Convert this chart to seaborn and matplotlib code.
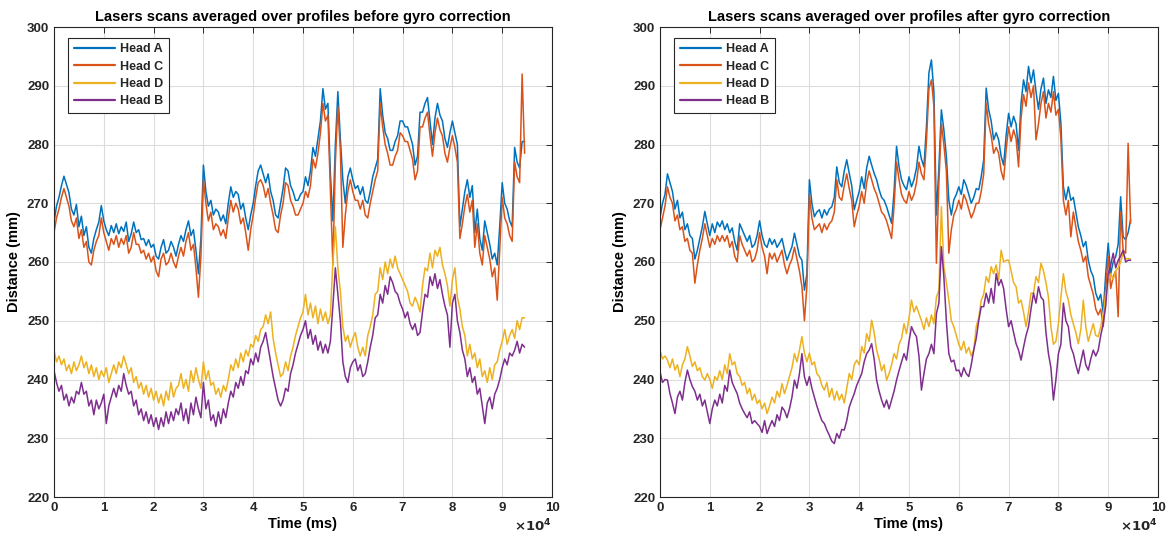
import numpy as np
import pandas as pd
import matplotlib
matplotlib.use("Agg")
import matplotlib.pyplot as plt
import seaborn as sns

# Sample times (ms), one averaged profile every 500 ms
time_ms = np.arange(190) * 500

# ---- Before gyro correction ----
before_head_a = [
    266.8, 269.5, 271.0, 273.0, 274.6, 273.2, 271.8, 269.0, 268.0, 269.8,
    266.0, 267.8, 264.5, 266.0, 262.5, 261.5, 264.0, 265.5, 266.8, 269.6,
    267.0, 265.5, 264.5, 266.2, 265.0, 266.5, 264.8, 266.0, 265.2, 266.8,
    263.5, 264.8, 266.8, 265.0, 265.5, 263.8, 264.0, 262.8, 263.8, 262.5,
    263.0, 261.0, 260.5, 262.5, 263.8, 261.5, 262.0, 263.5, 262.5, 261.0,
    263.0, 264.5, 263.5, 265.5, 267.0, 264.5, 265.5, 262.0, 258.0, 264.0,
    276.5, 272.0, 269.5, 270.5, 268.0, 269.0, 268.5, 267.0, 268.0, 266.5,
    270.0, 272.8, 271.0, 272.0, 271.5, 269.0, 270.0, 267.5, 265.5, 268.0,
    270.0, 273.0, 275.5, 276.5, 275.0, 273.5, 275.0, 272.0, 270.5, 268.0,
    267.5, 270.0, 272.5, 276.0, 275.5, 273.0, 272.0, 270.5, 270.5, 271.5,
    272.0, 274.5, 273.0, 275.5, 279.5, 278.0, 281.0, 284.0, 289.5, 286.0,
    287.0, 275.0, 267.0, 280.0, 289.0, 281.0, 274.0, 270.0, 274.5, 276.0,
    274.0, 272.5, 273.0, 271.5, 272.8, 270.5, 270.0, 272.0, 274.5, 276.0,
    277.5, 289.5, 285.0, 282.0, 281.0, 279.0, 279.0, 280.5, 281.5, 284.0,
    284.0, 283.0, 283.0, 281.5, 280.0, 276.5, 278.0, 285.5, 285.5, 287.0,
    288.0, 284.0, 280.0, 284.5, 287.0, 285.0, 284.0, 281.0, 279.5, 282.0,
    284.0, 282.0, 280.0, 266.0, 269.0, 272.0, 274.0, 271.0, 273.0, 265.0,
    269.0, 264.0, 262.0, 267.0, 265.0, 263.0, 260.5, 261.5, 259.5, 266.0,
    273.5, 270.0, 269.0, 267.0, 266.0, 279.5, 277.0, 276.0, 280.5, 280.5,
]
before_head_c = [
    265.0, 267.5, 269.0, 271.0, 272.5, 271.0, 269.5, 267.0, 266.0, 267.5,
    264.0, 265.5, 262.5, 263.5, 260.0, 259.5, 262.0, 263.5, 264.5, 267.5,
    265.0, 263.5, 262.0, 264.0, 263.0, 264.5, 262.5, 264.0, 263.0, 264.5,
    261.5, 262.5, 265.0, 263.0, 263.0, 261.5, 262.0, 260.5, 261.5, 260.0,
    261.0, 258.5, 257.5, 260.5, 261.5, 259.5, 260.0, 261.5, 260.0, 259.0,
    261.0, 262.5, 261.0, 263.5, 265.0, 262.0, 263.0, 259.0, 254.0, 261.0,
    274.0, 270.0, 267.0, 268.5, 265.5, 266.5, 266.0, 264.5, 265.5, 264.0,
    267.5, 270.5, 268.5, 270.0, 269.0, 266.5, 267.5, 265.0, 262.0, 265.5,
    268.0, 271.0, 273.5, 274.0, 273.0, 271.0, 272.5, 270.0, 268.0, 265.5,
    265.0, 268.0, 270.0, 273.5, 273.0, 270.5, 269.5, 268.0, 268.0, 269.0,
    270.0, 272.0, 271.0, 273.0, 277.5, 276.0, 278.5, 282.0, 287.0, 284.0,
    285.0, 272.0, 259.5, 277.0, 286.5, 279.0, 262.5, 268.0, 272.0, 274.0,
    272.0, 270.5, 270.5, 269.0, 270.5, 268.0, 267.5, 270.0, 272.0, 274.0,
    275.5, 287.0, 283.0, 280.0, 278.5, 276.5, 276.5, 278.0, 279.0, 282.0,
    281.5, 280.5, 280.5, 279.0, 277.5, 274.0, 275.5, 283.0, 283.0, 284.5,
    285.5, 281.5, 278.0, 282.0, 284.5, 282.5, 281.5, 278.5, 277.0, 279.5,
    281.5, 279.5, 277.0, 264.0, 266.5, 269.5, 271.5, 268.5, 270.5, 262.5,
    266.5, 261.5, 259.5, 264.5, 262.5, 260.5, 257.5, 259.0, 253.5, 262.0,
    271.0, 267.5, 266.5, 264.5, 263.5, 277.0, 274.5, 273.5, 292.0, 278.5,
]
before_head_d = [
    245.0, 243.0, 244.0, 242.5, 243.5, 241.5, 242.5, 241.0, 243.0, 241.5,
    242.5, 244.0, 242.0, 243.0, 241.0, 242.5, 240.5, 242.0, 240.0, 241.5,
    240.5, 242.0, 239.5, 241.0, 242.5, 241.0, 243.0, 242.0, 244.0, 242.5,
    241.0, 242.0, 239.5, 240.5, 238.5, 239.5, 237.5, 239.0, 237.0, 238.5,
    236.5, 238.0, 236.0, 237.5, 235.5, 238.0, 236.5, 239.5, 237.0, 238.5,
    239.0, 241.0, 238.5, 240.0, 238.0, 241.5, 239.5, 242.0, 240.0, 238.5,
    243.0, 240.0, 241.5, 239.0, 239.5, 237.5, 238.5, 237.0, 239.0, 238.0,
    240.0, 242.5, 241.5, 243.5, 242.0, 244.5, 243.0, 245.0, 244.0, 246.0,
    245.5, 247.5, 246.5, 248.5, 249.0, 251.0, 249.5, 251.5, 247.0, 244.5,
    242.5, 240.5, 241.0, 243.0, 241.5, 244.0, 245.5, 247.5, 249.0, 250.5,
    251.5, 254.5, 251.0, 253.0, 250.5, 252.5, 249.5, 252.0, 250.0, 251.5,
    249.5, 251.0, 260.0, 266.0, 259.0, 255.0, 249.0, 246.5, 247.5, 245.5,
    247.0, 248.0, 245.5, 244.0, 245.5, 244.0, 247.5, 249.0, 251.0, 254.5,
    255.0, 259.0, 257.0, 260.0, 258.0, 260.5, 259.0, 261.0, 259.0, 258.0,
    257.0, 256.0, 255.0, 253.0, 252.5, 254.0, 253.0, 251.5, 256.0, 259.0,
    258.5, 261.5, 259.0, 262.0, 261.0, 262.5, 259.5, 258.0, 256.0, 252.5,
    257.0, 259.0, 254.0, 252.0, 249.0, 247.5, 244.0, 246.0, 243.5, 244.5,
    242.0, 243.5, 240.5, 241.5, 239.5, 242.0, 240.0, 242.5, 243.0, 245.0,
    246.5, 248.5, 246.0, 247.5, 248.5, 247.0, 250.0, 248.5, 250.5, 250.5,
]
before_head_b = [
    241.5, 239.5, 238.0, 239.0, 236.5, 237.5, 235.5, 237.0, 236.0, 238.0,
    237.5, 239.5, 237.5, 238.0, 235.5, 236.5, 234.0, 236.5, 235.0, 236.0,
    237.5, 232.5, 235.5, 237.0, 238.5, 237.0, 239.0, 238.0, 241.0, 239.0,
    237.5, 238.0, 235.5, 236.5, 234.0, 235.0, 233.0, 234.5, 232.5, 234.0,
    232.0, 233.5, 231.5, 233.5, 232.0, 234.5, 232.5, 234.5, 233.0, 235.0,
    234.0, 236.0, 233.0, 235.0, 232.5, 236.0, 234.0, 237.0, 235.0, 233.5,
    239.5, 235.0, 236.5, 233.0, 234.0, 232.0, 234.5, 232.5, 235.0, 233.5,
    236.0, 238.0, 237.0, 239.5, 238.5, 240.5, 239.0, 241.5, 241.0, 243.5,
    242.5, 244.5, 243.0, 245.5, 246.5, 248.0, 245.5, 243.0, 240.5, 238.5,
    236.5, 235.5, 236.5, 238.5, 238.0, 241.0, 242.5, 244.5, 246.0, 247.5,
    248.5, 250.0, 247.0, 248.5, 246.0, 247.5, 245.0, 246.5, 244.5, 246.0,
    244.5, 246.5, 252.5, 259.0, 254.5, 250.0, 243.0, 240.5, 239.5, 242.0,
    243.0, 243.5, 241.5, 242.5, 240.5, 241.0, 243.0, 245.5, 247.5, 250.5,
    251.0, 254.5, 253.0, 256.0, 254.5, 257.5, 256.5, 255.0, 254.5, 253.0,
    252.0, 250.5, 251.5, 249.5, 248.5, 249.5, 247.5, 248.0, 251.5, 254.5,
    254.0, 257.5, 256.0, 258.0, 255.5, 257.0, 254.5, 252.5, 251.0, 245.5,
    253.0, 254.5, 250.0, 248.0, 245.0, 243.5, 240.5, 242.0, 239.5, 240.5,
    237.5, 238.5, 235.5, 232.5, 236.0, 237.0, 235.0, 237.5, 238.5, 240.0,
    242.0, 243.5, 242.5, 244.5, 244.0, 245.0, 246.5, 244.5, 246.0, 245.5,
]

# ---- After gyro correction ----
after_head_a = [
    267.5, 270.0, 271.5, 275.0, 273.5, 272.0, 269.0, 270.5, 267.5, 268.5,
    265.5, 266.5, 264.5, 264.0, 260.5, 262.0, 264.0, 266.0, 268.6, 266.5,
    264.5, 266.5, 265.0, 266.8, 266.0, 267.0, 265.5, 266.5, 265.0, 265.8,
    263.5, 262.0, 266.5, 265.5, 264.5, 263.5, 264.5, 262.5, 263.0, 264.5,
    267.0, 264.5, 263.0, 262.5, 264.0, 263.0, 263.8, 262.5, 263.2, 264.0,
    262.0, 260.3, 261.5, 262.6, 264.9, 263.0, 261.0, 260.3, 255.2, 258.0,
    274.0, 270.0, 267.7, 268.5, 268.9, 267.5, 268.9, 268.0, 269.0, 269.4,
    271.0, 276.2, 273.5, 272.8, 275.5, 277.4, 275.1, 273.0, 268.9, 270.5,
    272.0, 274.5, 272.5, 276.0, 278.0, 276.5, 275.1, 274.0, 272.3, 271.0,
    270.5, 269.4, 268.0, 266.6, 272.0, 279.7, 276.2, 274.0, 273.0, 272.3,
    274.5, 272.8, 274.0, 276.0, 279.7, 277.5, 276.2, 283.0, 292.2, 294.4,
    289.0, 268.0, 276.0, 285.9, 282.5, 278.0, 270.5, 268.0, 270.6, 271.5,
    272.8, 271.5, 274.0, 273.0, 271.5, 270.0, 271.0, 272.5, 272.3, 274.5,
    277.4, 289.6, 285.9, 284.0, 280.8, 282.0, 280.8, 278.0, 276.5, 281.5,
    285.3, 283.0, 284.8, 283.5, 279.0, 287.0, 291.0, 289.0, 293.3, 290.5,
    292.7, 289.0, 286.0, 289.5, 291.3, 287.0, 289.3, 288.0, 291.6, 287.5,
    288.7, 283.6, 272.8, 270.6, 272.8, 270.5, 271.0, 268.5, 266.0, 264.5,
    262.6, 263.5, 260.3, 258.5, 257.5, 254.7, 253.5, 254.5, 251.3, 258.0,
    263.2, 258.0, 260.0, 260.9, 263.0, 271.1, 264.3, 263.8, 265.0, 267.2,
]
after_head_c = [
    265.5, 267.5, 269.5, 272.8, 271.0, 270.0, 267.0, 268.0, 265.5, 266.0,
    263.5, 264.0, 262.0, 261.5, 256.4, 259.5, 262.0, 264.0, 266.5, 264.5,
    262.5, 264.0, 263.0, 264.5, 263.5, 264.5, 263.5, 264.5, 262.5, 263.5,
    261.0, 260.0, 264.5, 263.0, 262.0, 261.0, 262.0, 260.0, 260.5, 262.0,
    265.0, 262.5, 261.0, 258.0, 261.5, 260.5, 261.5, 260.0, 261.0, 262.0,
    259.5, 258.0, 259.5, 260.5, 262.5, 260.5, 258.5, 255.8, 250.0, 256.0,
    271.5, 267.5, 265.5, 266.0, 266.5, 265.0, 266.5, 265.5, 266.5, 267.0,
    268.5, 274.0, 271.0, 270.5, 273.0, 275.0, 272.5, 270.5, 266.0, 268.0,
    269.5, 272.0, 270.0, 273.5, 275.5, 274.0, 272.5, 271.5, 270.0, 268.5,
    268.0, 267.0, 265.5, 264.0, 269.5, 277.0, 274.0, 271.5, 270.5, 270.0,
    272.0, 270.5, 271.5, 273.5, 277.0, 275.0, 274.0, 280.5, 289.5, 291.0,
    286.5, 259.8, 273.5, 283.5, 280.0, 275.5, 261.5, 265.5, 268.0, 269.0,
    270.5, 269.0, 271.5, 270.5, 269.0, 267.5, 268.5, 270.0, 270.0, 272.0,
    275.0, 287.0, 283.5, 281.5, 278.5, 279.5, 278.5, 275.5, 274.0, 279.0,
    283.0, 280.5, 282.5, 281.0, 276.2, 284.5, 288.5, 286.5, 290.5, 288.0,
    290.0, 280.8, 283.5, 287.0, 289.0, 284.5, 287.0, 285.5, 289.0, 285.0,
    286.0, 281.0, 270.5, 268.0, 270.5, 264.3, 268.5, 266.0, 263.5, 262.0,
    260.0, 261.0, 257.5, 256.0, 254.5, 252.0, 251.0, 252.0, 249.0, 255.5,
    261.0, 255.5, 257.5, 258.5, 250.7, 268.5, 262.0, 261.5, 280.2, 266.6,
]
after_head_d = [
    245.0, 243.5, 244.0, 243.3, 242.0, 243.5, 241.6, 242.5, 240.5, 242.5,
    243.5, 245.6, 244.0, 242.2, 243.0, 241.5, 242.0, 240.5, 239.9, 241.0,
    240.0, 238.5, 240.5, 239.9, 241.5, 240.0, 242.5, 241.0, 244.4, 242.5,
    243.0, 241.0, 240.5, 239.0, 239.5, 237.6, 238.5, 236.5, 237.5, 235.9,
    236.5, 235.0, 236.0, 234.2, 235.5, 237.0, 236.0, 238.0, 237.0, 239.3,
    237.6, 239.0, 240.5, 242.0, 244.4, 243.0, 245.0, 247.3, 244.5, 243.0,
    244.5, 242.5, 243.0, 241.0, 240.5, 239.0, 238.2, 239.5, 237.0, 238.5,
    236.5, 238.0, 236.5, 237.5, 236.0, 238.5, 241.0, 240.0, 242.5, 243.3,
    242.5, 245.6, 244.5, 247.8, 246.5, 250.1, 248.0, 245.0, 243.5, 241.5,
    242.5, 239.9, 241.0, 242.5, 244.4, 243.5, 246.0, 247.0, 249.5, 247.8,
    250.5, 253.5, 251.5, 252.5, 251.2, 250.0, 248.5, 250.5, 249.0, 251.0,
    249.5, 254.0, 255.2, 269.4, 259.2, 256.5, 253.5, 250.0, 249.0, 247.5,
    246.0, 245.0, 246.5, 244.5, 245.5, 244.0, 245.0, 249.0, 250.5, 253.5,
    254.5, 257.5, 256.5, 259.2, 258.0, 259.5, 257.0, 262.0, 260.0, 260.3,
    260.3, 258.5, 256.5, 255.8, 253.0, 253.5, 251.5, 249.0, 251.5, 254.7,
    254.7, 257.5, 256.5, 259.8, 258.5, 256.5, 254.0, 249.0, 246.0, 246.5,
    249.5, 254.0, 258.0, 255.0, 253.5, 251.0, 249.5, 248.0, 246.1, 248.5,
    253.5, 249.0, 246.5, 248.0, 249.5, 247.5, 247.3, 249.0, 251.2, 254.5,
    256.9, 258.0, 257.0, 258.5, 259.0, 260.0, 261.5, 260.5, 260.6, 260.5,
]
after_head_b = [
    241.3, 239.5, 240.0, 239.9, 237.6, 236.0, 234.2, 237.0, 238.0, 236.5,
    239.5, 241.6, 240.0, 238.8, 238.0, 236.5, 237.5, 235.5, 236.5, 234.5,
    232.5, 235.0, 236.5, 235.5, 237.5, 236.0, 239.0, 238.0, 241.6, 239.5,
    238.5, 237.6, 236.0, 235.0, 234.2, 233.5, 234.5, 232.5, 233.0, 232.5,
    232.0, 231.0, 233.0, 230.8, 232.0, 233.0, 232.0, 234.0, 233.0, 235.3,
    234.7, 233.5, 235.0, 237.0, 239.9, 238.5, 241.0, 244.4, 240.5, 239.0,
    240.5, 238.5, 237.0, 235.5, 234.2, 233.0, 232.5, 231.4, 230.5, 229.5,
    229.1, 230.8, 230.0, 231.5, 231.4, 233.0, 235.3, 236.5, 237.6, 239.0,
    240.0, 241.0, 243.0, 244.4, 245.0, 246.1, 243.5, 239.9, 238.0, 236.5,
    235.3, 236.5, 235.0, 236.5, 238.0, 239.9, 241.5, 243.0, 244.4, 243.3,
    246.5, 249.0, 248.0, 247.3, 244.0, 238.2, 241.0, 243.5, 244.4, 246.0,
    244.4, 251.2, 253.0, 262.6, 257.5, 250.0, 244.4, 243.0, 243.3, 241.5,
    241.6, 240.5, 242.0, 241.0, 240.5, 242.5, 245.0, 247.0, 250.0, 252.4,
    252.4, 254.7, 253.0, 255.5, 253.0, 258.0, 256.0, 257.0, 255.5, 252.0,
    249.0, 250.0, 248.0, 246.1, 245.0, 243.3, 245.5, 247.5, 249.0, 252.0,
    254.7, 253.0, 255.8, 254.0, 253.5, 248.0, 244.4, 242.0, 236.5, 240.0,
    244.4, 246.0, 253.0, 250.0, 249.0, 245.5, 244.4, 242.5, 241.0, 243.0,
    245.0, 242.5, 241.6, 243.5, 245.0, 244.0, 245.0, 247.5, 249.5, 252.5,
    258.0, 259.5, 261.5, 259.0, 260.3, 261.0, 262.0, 260.0, 260.3, 260.3,
]

head_order = ["Head A", "Head C", "Head D", "Head B"]
head_colors = ["#0072BD", "#D95319", "#EDB120", "#7E2F8E"]
panel_titles = [
    "Lasers scans averaged over profiles before gyro correction",
    "Lasers scans averaged over profiles after gyro correction",
]
x_tick_labels = [str(i) for i in range(11)]
y_ticks = list(range(220, 301, 10))

panels = [
    [before_head_a, before_head_c, before_head_d, before_head_b],
    [after_head_a, after_head_c, after_head_d, after_head_b],
]

sns.set_style("white")
plt.rcParams["font.family"] = ["Liberation Sans", "DejaVu Sans"]
plt.rcParams["font.weight"] = "bold"

fig = plt.figure(figsize=(11.68, 5.42), dpi=100)
ax_positions = [
    [54 / 1168, 45 / 542, 498 / 1168, 470 / 542],
    [660 / 1168, 45 / 542, 498 / 1168, 470 / 542],
]
axis_grey = "#262626"

for pos, series, title in zip(ax_positions, panels, panel_titles):
    ax = fig.add_axes(pos)
    frames = []
    for name, vals in zip(head_order, series):
        frames.append(pd.DataFrame({"time": time_ms, "distance": vals, "head": name}))
    df = pd.concat(frames, ignore_index=True)
    sns.lineplot(
        data=df, x="time", y="distance", hue="head",
        hue_order=head_order, palette=head_colors,
        estimator=None, sort=False, linewidth=1.1, ax=ax,
    )
    ax.set_xlim(0, 100000)
    ax.set_ylim(220, 300)
    ax.set_xticks(np.arange(0, 100001, 10000))
    ax.set_xticklabels(x_tick_labels)
    ax.set_yticks(y_ticks)
    ax.tick_params(axis="both", direction="in", length=4, width=0.7,
                   colors=axis_grey, labelsize=9.5, top=True, right=True,
                   labelcolor=axis_grey)
    for lab in ax.get_xticklabels() + ax.get_yticklabels():
        lab.set_fontweight("bold")
    ax.grid(True, color="#dcdcdc", linewidth=0.8)
    for sp in ax.spines.values():
        sp.set_color(axis_grey)
        sp.set_linewidth(0.8)
    ax.set_title(title, fontsize=10.5, fontweight="bold", color="black", pad=4)
    ax.set_xlabel("Time (ms)", fontsize=10.5, fontweight="bold", color="black", labelpad=2)
    ax.set_ylabel("Distance (mm)", fontsize=10.5, fontweight="bold", color="black", labelpad=4)
    ax.text(1.0, -0.045, r"$\times\mathbf{10^{4}}$", transform=ax.transAxes,
            ha="right", va="top", fontsize=9.5, color=axis_grey)
    leg = ax.legend(loc="upper left", bbox_to_anchor=(0.028, 0.977),
                    borderaxespad=0, frameon=True, fancybox=False,
                    framealpha=1, edgecolor=axis_grey, fontsize=9,
                    handlelength=3.3, handletextpad=0.45, labelspacing=0.42,
                    borderpad=0.45, title=None)
    leg.get_frame().set_linewidth(0.8)
    for txt in leg.get_texts():
        txt.set_fontweight("bold")
    for line in leg.get_lines():
        line.set_linewidth(1.6)

fig.savefig("out.png", dpi=100)
